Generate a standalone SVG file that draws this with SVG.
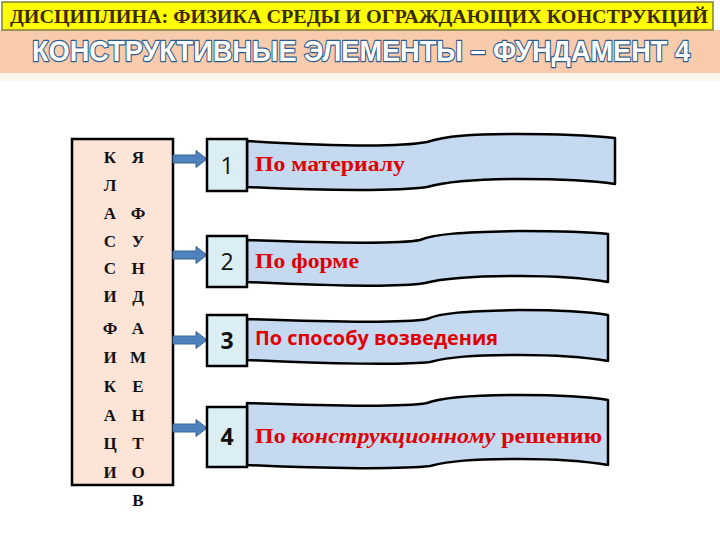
<svg xmlns="http://www.w3.org/2000/svg" width="720" height="540" viewBox="0 0 720 540">
<defs>
<style>
.hdr{font-family:"Liberation Serif","DejaVu Serif",serif;font-weight:bold;font-size:18px;fill:#3b2a00}
.sub{font-family:"Liberation Sans","DejaVu Sans",sans-serif;font-weight:bold;font-size:26px;fill:#ffffff;stroke:#2b5a8c;stroke-width:2;paint-order:stroke;stroke-linejoin:round}
.let{font-family:"Liberation Serif","DejaVu Serif",serif;font-weight:bold;font-size:17px;fill:#111;text-anchor:middle}
.num{font-family:"Open Sans","Liberation Sans",sans-serif;font-size:23px;fill:#111;text-anchor:middle}
.numb{font-weight:bold}
.ban{fill:#c5d9f1;stroke:#000;stroke-width:2.5;stroke-linejoin:round}
.nbox{fill:#daeef3;stroke:#000;stroke-width:2.5}
.lbl{font-family:"Liberation Serif","DejaVu Serif",serif;font-weight:bold;font-size:22px;fill:#e00000}
.lbls{font-family:"Open Sans","Liberation Sans",sans-serif;font-weight:bold;font-size:20px;fill:#e00000}
.arr{fill:#4f81bd;stroke:#3a6496;stroke-width:1}
</style>
<path id="arrow" class="arr" d="M173,-4 L196,-4 L196,-8.5 L207,0 L196,8.5 L196,4 L173,4 Z"/>
</defs>
<rect width="720" height="540" fill="#ffffff"/>
<g id="header">
<rect x="0" y="30" width="720" height="43" fill="#f8cbad"/>
<rect x="0" y="73" width="720" height="8" fill="#fdf4ec"/>
<rect x="2" y="2" width="711" height="28" fill="#ffff00" stroke="#7f7f3f" stroke-width="1.5"/>
<text class="hdr" x="10" y="23" textLength="698" lengthAdjust="spacingAndGlyphs">ДИСЦИПЛИНА: ФИЗИКА СРЕДЫ И ОГРАЖДАЮЩИХ КОНСТРУКЦИЙ</text>
<text class="sub" transform="translate(32,61) scale(1,1.17)" x="0" y="0" textLength="658" lengthAdjust="spacingAndGlyphs">КОНСТРУКТИВНЫЕ ЭЛЕМЕНТЫ – ФУНДАМЕНТ 4</text>
</g>
<g id="classification">
<rect x="72" y="139" width="101" height="346" fill="#fce4d6" stroke="#000" stroke-width="2.5"/>
<text class="let" x="110" y="163">К</text><text class="let" x="138" y="163">Я</text>
<text class="let" x="110" y="191">Л</text>
<text class="let" x="110" y="219">А</text><text class="let" x="138" y="219">Ф</text>
<text class="let" x="110" y="247">С</text><text class="let" x="138" y="247">У</text>
<text class="let" x="110" y="274">С</text><text class="let" x="138" y="274">Н</text>
<text class="let" x="110" y="302">И</text><text class="let" x="138" y="302">Д</text>
<text class="let" x="110" y="334">Ф</text><text class="let" x="138" y="334">А</text>
<text class="let" x="110" y="363">И</text><text class="let" x="138" y="363">М</text>
<text class="let" x="110" y="392">К</text><text class="let" x="138" y="392">Е</text>
<text class="let" x="110" y="421">А</text><text class="let" x="138" y="421">Н</text>
<text class="let" x="110" y="449">Ц</text><text class="let" x="138" y="449">Т</text>
<text class="let" x="110" y="478">И</text><text class="let" x="138" y="478">О</text>
<text class="let" x="138" y="506">В</text>
</g>
<g id="connectors">
<use href="#arrow" y="159"/>
<use href="#arrow" y="255"/>
<use href="#arrow" y="340"/>
<use href="#arrow" y="428"/>
</g>
<g id="item1">
<path class="ban" d="M247,141 C330,146 400,147 427,142 C445,136 470,134 520,134 C565,134 595,136 615,138 L615,184 C595,181 565,179 520,179 C470,179 445,182 427,187 C400,191 330,191 247,187 Z"/>
<rect class="nbox" x="207" y="139" width="40" height="52"/>
<text class="num" x="227" y="174">1</text>
<text class="lbl" x="255" y="171" textLength="150" lengthAdjust="spacingAndGlyphs">По материалу</text>
</g>
<g id="item2">
<path class="ban" d="M247,240 C330,243 400,244 420,240 C435,234 460,232 520,231 C565,231 590,232 608,234 L608,282 C590,279 565,276 520,276 C470,276 445,278 425,283 C400,287 330,286 247,282 Z"/>
<rect class="nbox" x="207" y="236" width="40" height="51"/>
<text class="num" x="227" y="270">2</text>
<text class="lbl" x="255" y="268" textLength="104" lengthAdjust="spacingAndGlyphs">По форме</text>
</g>
<g id="item3">
<path class="ban" d="M247,319 C330,322 405,323 427,319 C440,313 465,311 520,310 C565,310 590,312 608,315 L608,361 C590,358 565,355 520,355 C470,355 450,357 430,362 C405,365 330,364 247,360 Z"/>
<rect class="nbox" x="207" y="315" width="40" height="51"/>
<text class="num numb" x="227" y="349">3</text>
<text class="lbls" x="255" y="345" textLength="243" lengthAdjust="spacingAndGlyphs">По способу возведения</text>
</g>
<g id="item4">
<path class="ban" d="M247,403 C330,406 405,407 427,403 C440,398 465,395 520,395 C565,395 590,397 608,400 L608,465 C590,462 565,459 520,459 C470,459 450,461 430,466 C405,469 330,469 247,465 Z"/>
<rect class="nbox" x="207" y="407" width="40" height="60"/>
<text class="num numb" x="227" y="445">4</text>
<text class="lbl" x="255" y="443" textLength="347" lengthAdjust="spacingAndGlyphs">По <tspan font-style="italic">конструкционному</tspan> решению</text>
</g>
</svg>
